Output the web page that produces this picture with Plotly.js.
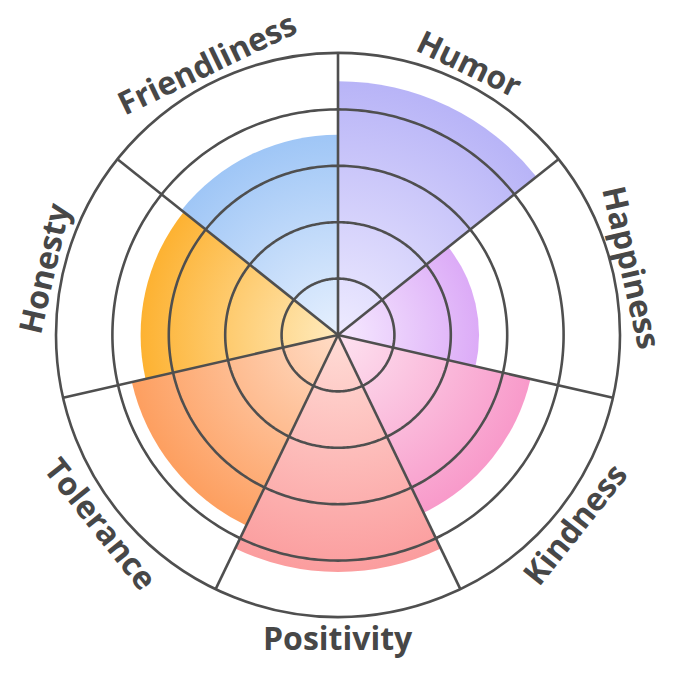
<!DOCTYPE html>
<html>
<head>
<meta charset="utf-8">
<script src="https://cdn.plot.ly/plotly-3.0.1.min.js"></script>
<style>
  html, body { margin: 0; padding: 0; background: #ffffff; }
  #chart { width: 675px; height: 680px; }
</style>
</head>
<body>
<div id="chart"></div>
<script>
// ---- data ----
const categories = ['Humor', 'Happiness', 'Kindness', 'Positivity', 'Tolerance', 'Honesty', 'Friendliness'];
const scores = [4.5, 2.5, 3.5, 4.2, 3.75, 3.5, 3.55];
const outerColors = ['#b8b4f7', '#dcabf7', '#f89aca', '#fb9d9e', '#fd9f60', '#fdb232', '#9fc6f6'];
const innerColors = ['#eeebff', '#f6eaff', '#fde2f0', '#ffdcd6', '#ffdcc6', '#ffebbd', '#e6f0fe'];
const ringLevels = [1, 2, 3, 4];
const radialMax = 5;

// ---- layout geometry ----
const W = 675, H = 680;
const M = { l: 56, r: 55, t: 53, b: 63 };
const n = categories.length;
const sector = 360 / n;
const thetaCenters = categories.map((c, i) => (i + 0.5) * sector);
const gridColor = '#4f4f4f';
const gridWidth = 2.6;

const traces = [];
traces.push({
  type: 'barpolar',
  r: scores,
  theta: thetaCenters,
  width: categories.map(() => sector),
  text: categories,
  marker: { color: outerColors, line: { width: 0 } },
  hoverinfo: 'text+r',
  showlegend: false
});

// inner rings
ringLevels.forEach(lv => {
  const th = [], rr = [];
  for (let a = 0; a <= 360; a += 1) { th.push(a); rr.push(lv); }
  traces.push({
    type: 'scatterpolar', mode: 'lines', r: rr, theta: th,
    line: { color: gridColor, width: gridWidth },
    hoverinfo: 'skip', showlegend: false, cliponaxis: false
  });
});
// spokes at sector boundaries
const spR = [], spT = [];
categories.forEach((c, i) => { spR.push(0, radialMax, null); spT.push(i * sector, i * sector, null); });
traces.push({
  type: 'scatterpolar', mode: 'lines', r: spR, theta: spT,
  line: { color: gridColor, width: gridWidth },
  hoverinfo: 'skip', showlegend: false, cliponaxis: false
});

// labels
const plotW = W - M.l - M.r, plotH = H - M.t - M.b;
const labelR = 302;
const annotations = categories.map((c, i) => {
  const a = thetaCenters[i];
  const rad = a * Math.PI / 180;
  let ang = a;
  if (a > 90 && a < 270) ang = a - 180;
  else if (a >= 270) ang = a - 360;
  return {
    text: c, xref: 'paper', yref: 'paper',
    x: 0.5 + labelR * Math.sin(rad) / plotW,
    y: 0.5 + labelR * Math.cos(rad) / plotH,
    xanchor: 'center', yanchor: 'middle', showarrow: false,
    textangle: ang,
    font: { family: 'Open Sans', size: 32, color: '#474747', weight: 700 }
  };
});

const layout = {
  width: W, height: H,
  margin: M,
  paper_bgcolor: '#ffffff',
  showlegend: false,
  polar: {
    bgcolor: '#ffffff',
    domain: { x: [0, 1], y: [0, 1] },
    radialaxis: { range: [0, radialMax], visible: false, showgrid: false },
    angularaxis: {
      rotation: 90, direction: 'clockwise',
      showgrid: false, showticklabels: false, ticks: '',
      showline: true, linecolor: gridColor, linewidth: gridWidth
    }
  },
  annotations: annotations
};

const gd = document.getElementById('chart');
Plotly.newPlot(gd, traces, layout, { displayModeBar: false, staticPlot: true }).then(() => {
  const svg = gd.querySelector('svg.main-svg');
  const ns = 'http://www.w3.org/2000/svg';
  let defs = svg.querySelector('defs');
  if (!defs) { defs = document.createElementNS(ns, 'defs'); svg.insertBefore(defs, svg.firstChild); }
  const rect = svg.getBoundingClientRect();
  const cxPage = rect.left + M.l + plotW / 2;
  const cyPage = rect.top + M.t + plotH / 2;
  const pxPerUnit = (plotW / 2) / radialMax;
  const paths = gd.querySelectorAll('.barlayer path');
  paths.forEach((p, i) => {
    if (i >= n) return;
    const m = p.getScreenCTM().inverse();
    const pt = svg.createSVGPoint();
    pt.x = cxPage; pt.y = cyPage;
    const loc = pt.matrixTransform(m);
    const g = document.createElementNS(ns, 'radialGradient');
    g.setAttribute('id', 'bargrad' + i);
    g.setAttribute('gradientUnits', 'userSpaceOnUse');
    g.setAttribute('cx', loc.x); g.setAttribute('cy', loc.y);
    g.setAttribute('r', scores[i] * pxPerUnit);
    const s0 = document.createElementNS(ns, 'stop');
    s0.setAttribute('offset', '0'); s0.setAttribute('stop-color', innerColors[i]);
    const s1 = document.createElementNS(ns, 'stop');
    s1.setAttribute('offset', '1'); s1.setAttribute('stop-color', outerColors[i]);
    g.appendChild(s0); g.appendChild(s1);
    defs.appendChild(g);
    p.style.fill = 'url(#bargrad' + i + ')';
    p.style.fillOpacity = 1;
  });
});
</script>
</body>
</html>
